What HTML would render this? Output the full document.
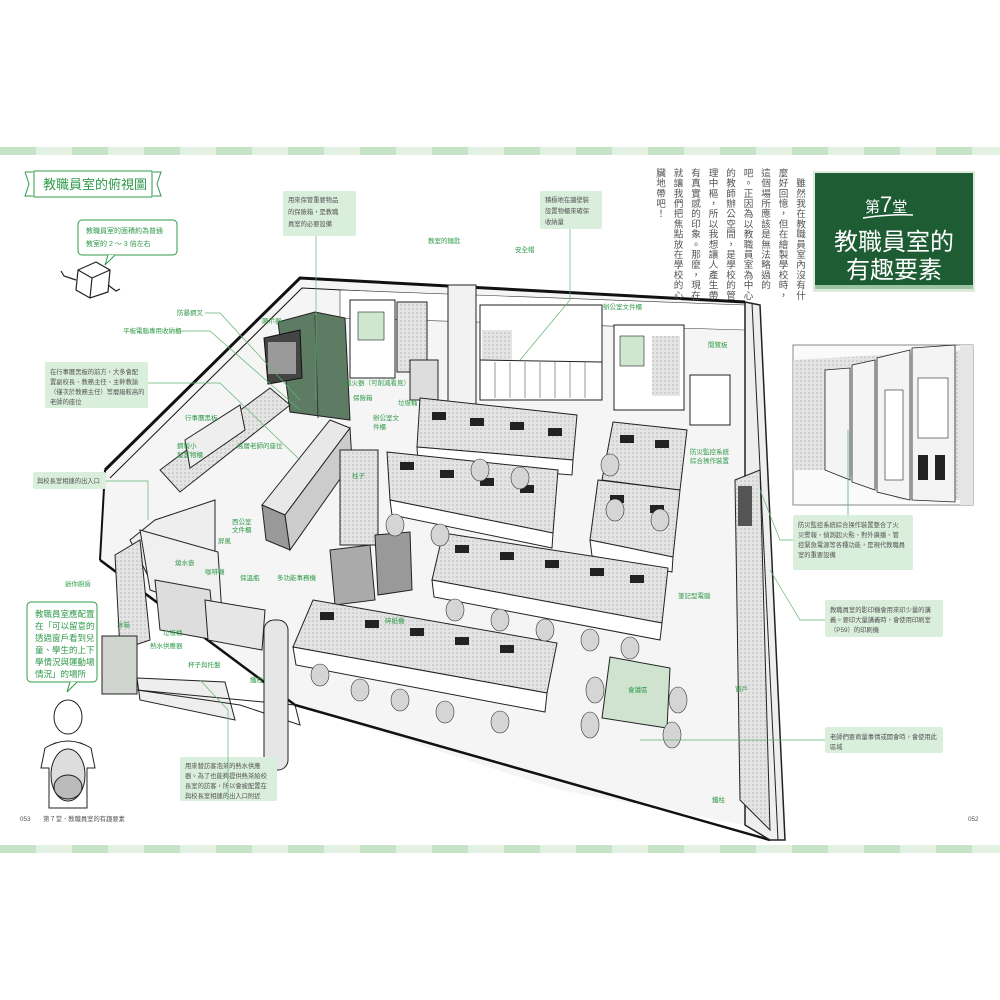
<!DOCTYPE html>
<html><head><meta charset="utf-8">
<style>
html,body{margin:0;padding:0;background:#fff;}
body{width:1000px;height:1000px;position:relative;overflow:hidden;font-family:"Liberation Sans","Noto Sans CJK TC",sans-serif;}
.vt{position:absolute;left:646px;top:168px;width:162px;height:135px;writing-mode:vertical-rl;font-size:9.6px;line-height:17.5px;color:#555;letter-spacing:0.6px;white-space:nowrap;}
svg{position:absolute;left:0;top:0;}
.l{fill:#2f9a4a;font-size:6.5px;font-family:"Liberation Sans","Noto Sans CJK TC",sans-serif;}
.b{fill:#555;font-size:6.3px;font-family:"Liberation Sans","Noto Sans CJK TC",sans-serif;}
.g{fill:#2f9a4a;font-size:8.5px;font-family:"Liberation Sans","Noto Sans CJK TC",sans-serif;}
</style></head><body>
<svg width="1000" height="1000" viewBox="0 0 1000 1000">
<defs>
<pattern id="st" width="72" height="10" patternUnits="userSpaceOnUse">
<rect width="36" height="10" fill="#c6e3c6"/><rect x="36" width="36" height="10" fill="#e2f1e2"/></pattern>
<pattern id="ht" width="4" height="4" patternUnits="userSpaceOnUse"><rect width="4" height="4" fill="#e4e4e4"/><circle cx="1" cy="1" r="0.8" fill="#b8b8b8"/></pattern>
</defs>
<rect x="0" y="147" width="1000" height="8" fill="url(#st)"/>
<rect x="0" y="845" width="1000" height="8" fill="url(#st)"/>

<path d="M25 172 l8 0 M25 172 l4 12 l-4 12 l8 0" stroke="#2f9a4a" fill="none"/>
<rect x="34" y="171" width="118" height="26" fill="#fff" stroke="#2f9a4a"/>
<path d="M153 172 l8 0 l-4 12 l4 12 l-8 0" stroke="#2f9a4a" fill="none"/>
<text x="43" y="189" class="g" style="font-size:13px">教職員室的俯視圖</text>

<rect x="813" y="171" width="162" height="121" fill="#dbeadb"/>
<rect x="815" y="173" width="158" height="112" fill="#1e5c34"/>
<rect x="815" y="285" width="158" height="4" fill="#9cc4a4"/>
<text x="865" y="212" fill="#fff" font-size="15" font-family="Liberation Sans,Noto Sans CJK TC,sans-serif">第<tspan font-size="22">7</tspan>堂</text>
<path d="M863 218 q25 -4 50 -3" stroke="#fff" fill="none" stroke-width="1.5"/>
<text x="834" y="250" fill="#fff" font-size="24" font-family="Liberation Sans,Noto Sans CJK TC,sans-serif">教職員室的</text>
<text x="846" y="278" fill="#fff" font-size="24" font-family="Liberation Sans,Noto Sans CJK TC,sans-serif">有趣要素</text>

<polygon points="300,278 745,302 745,825 560,790 295,705 100,560 105,470" fill="#f5f5f5"/>
<polyline points="105,470 300,278 745,302" fill="none" stroke="#111" stroke-width="3"/>
<polyline points="110,478 302,288 740,310" fill="none" stroke="#111" stroke-width="1"/>
<polyline points="100,560 295,705 770,840" fill="none" stroke="#111" stroke-width="2.5"/>
<line x1="105" y1="470" x2="100" y2="560" stroke="#111" stroke-width="2"/>
<polygon points="340,290 745,305 745,330 340,318" fill="#fff" stroke="#333" stroke-width=".6"/>
<rect x="350" y="300" width="45" height="78" fill="#fff" stroke="#222"/>
<rect x="358" y="312" width="26" height="28" fill="#cfe6cf" stroke="#222" stroke-width=".6"/>
<rect x="397" y="302" width="30" height="70" fill="url(#ht)" stroke="#222"/>
<rect x="448" y="285" width="28" height="150" fill="#f2f2f2" stroke="#222"/>
<rect x="480" y="305" width="122" height="95" fill="#fff" stroke="#222"/>
<rect x="482" y="330" width="30" height="30" fill="url(#ht)"/>
<line x1="480" y1="360" x2="602" y2="362" stroke="#222"/>
<g stroke="#555" stroke-width=".6"><line x1="495" y1="362" x2="495" y2="398"/><line x1="510" y1="362" x2="510" y2="398"/><line x1="525" y1="362" x2="525" y2="398"/><line x1="540" y1="362" x2="540" y2="398"/><line x1="555" y1="362" x2="555" y2="398"/><line x1="570" y1="362" x2="570" y2="398"/><line x1="585" y1="362" x2="585" y2="398"/></g>
<rect x="614" y="325" width="70" height="85" fill="#fff" stroke="#222"/>
<rect x="620" y="336" width="24" height="30" fill="#cfe6cf" stroke="#222" stroke-width=".6"/>
<rect x="652" y="336" width="28" height="60" fill="url(#ht)"/>
<rect x="690" y="375" width="40" height="50" fill="#fff" stroke="#222"/>
<rect x="410" y="360" width="28" height="40" fill="#ddd" stroke="#222"/>
<polygon points="278,322 315,312 345,318 350,420 290,412" fill="#5e7b64" stroke="#222"/>
<line x1="315" y1="315" x2="318" y2="418" stroke="#2c3d2f"/>
<polygon points="264,338 300,330 302,378 268,384" fill="#444" stroke="#111"/>
<rect x="268" y="342" width="28" height="32" fill="#9a9a9a"/>
<polygon points="160,470 270,388 290,405 180,492" fill="url(#ht)" stroke="#222"/>
<polygon points="185,440 240,405 245,430 190,468" fill="#eee" stroke="#222"/>
<polygon points="262,505 330,420 350,428 285,515" fill="#e8e8e8" stroke="#222"/>
<polygon points="262,505 285,515 290,550 266,540" fill="#999" stroke="#222"/>
<polygon points="285,515 350,428 352,462 290,550" fill="#ccc" stroke="#222"/>
<polygon points="130,540 155,520 215,500 215,560 150,580" fill="#eee" stroke="#222"/>
<polygon points="115,555 140,540 150,640 120,650" fill="url(#ht)" stroke="#222"/>
<polygon points="140,530 218,552 222,615 150,590" fill="#f0f0f0" stroke="#222"/>
<polygon points="155,580 210,590 215,640 160,630" fill="#ddd" stroke="#222"/>
<polygon points="205,600 265,610 262,650 208,640" fill="#e6e6e6" stroke="#222"/>
<rect x="102" y="636" width="35" height="58" fill="#cfd4cf" stroke="#222"/>
<polygon points="137,678 225,682 235,720 140,700" fill="#eee" stroke="#222"/>
<polygon points="137,690 240,705 300,725 295,705" fill="none" stroke="#222"/>
<rect x="340" y="450" width="38" height="95" fill="url(#ht)" stroke="#222"/>
<rect x="264" y="620" width="24" height="150" rx="10" fill="#e6e6e6" stroke="#222"/>
<polygon points="330,550 370,545 375,600 335,605" fill="#aaa" stroke="#222"/>
<polygon points="375,535 410,532 412,590 378,595" fill="#999" stroke="#222"/>
<g stroke="#222" stroke-width="1">
<polygon points="420,398 577,415 573,460 417,447" fill="url(#ht)"/>
<polygon points="417,447 573,460 572,475 418,462" fill="#fff"/>
<polygon points="387,452 558,470 553,533 390,500" fill="url(#ht)"/>
<polygon points="390,500 553,533 552,548 392,515" fill="#fff"/>
<polygon points="613,422 687,430 680,490 602,480" fill="url(#ht)"/>
<polygon points="598,480 680,490 673,557 590,540" fill="url(#ht)"/>
<polygon points="590,540 673,557 672,572 592,556" fill="#fff"/>
<polygon points="443,533 668,568 662,623 432,580" fill="url(#ht)"/>
<polygon points="432,580 662,623 660,640 434,597" fill="#fff"/>
<polygon points="313,600 557,643 547,693 293,647" fill="url(#ht)"/>
<polygon points="293,647 547,693 545,712 296,665" fill="#fff"/>
<polygon points="610,657 670,668 667,728 602,718" fill="#cfe3cf"/>
</g>
<g fill="#222">
<rect x="432" y="412" width="14" height="8"/><rect x="470" y="418" width="14" height="8"/><rect x="510" y="422" width="14" height="8"/><rect x="548" y="428" width="14" height="8"/>
<rect x="400" y="462" width="14" height="8"/><rect x="440" y="470" width="14" height="8"/><rect x="480" y="478" width="14" height="8"/><rect x="520" y="485" width="14" height="8"/>
<rect x="620" y="435" width="14" height="8"/><rect x="655" y="440" width="14" height="8"/><rect x="610" y="495" width="14" height="8"/><rect x="650" y="505" width="14" height="8"/>
<rect x="455" y="545" width="14" height="8"/><rect x="500" y="552" width="14" height="8"/><rect x="545" y="560" width="14" height="8"/><rect x="590" y="568" width="14" height="8"/><rect x="630" y="575" width="14" height="8"/>
<rect x="320" y="612" width="14" height="8"/><rect x="365" y="620" width="14" height="8"/><rect x="410" y="628" width="14" height="8"/><rect x="455" y="637" width="14" height="8"/><rect x="500" y="645" width="14" height="8"/>
</g>
<g fill="#d5d5d5" stroke="#333" stroke-width=".6">
<ellipse cx="395" cy="525" rx="9" ry="11"/><ellipse cx="440" cy="535" rx="9" ry="11"/><ellipse cx="480" cy="470" rx="9" ry="11"/><ellipse cx="520" cy="478" rx="9" ry="11"/>
<ellipse cx="455" cy="610" rx="9" ry="11"/><ellipse cx="500" cy="620" rx="9" ry="11"/><ellipse cx="545" cy="630" rx="9" ry="11"/><ellipse cx="590" cy="640" rx="9" ry="11"/><ellipse cx="630" cy="648" rx="9" ry="11"/>
<ellipse cx="320" cy="675" rx="9" ry="11"/><ellipse cx="360" cy="690" rx="9" ry="11"/><ellipse cx="400" cy="700" rx="9" ry="11"/><ellipse cx="445" cy="712" rx="9" ry="11"/><ellipse cx="500" cy="722" rx="9" ry="11"/>
<ellipse cx="595" cy="690" rx="9" ry="13"/><ellipse cx="590" cy="725" rx="9" ry="13"/><ellipse cx="678" cy="700" rx="9" ry="13"/><ellipse cx="672" cy="735" rx="9" ry="13"/>
<ellipse cx="615" cy="510" rx="9" ry="11"/><ellipse cx="660" cy="520" rx="9" ry="11"/><ellipse cx="610" cy="465" rx="9" ry="11"/>
</g>
<polygon points="745,302 760,305 785,840 770,840 745,825" fill="#eee" stroke="#222" stroke-width="1.5"/>
<line x1="752" y1="303" x2="778" y2="840" stroke="#222"/>
<polygon points="735,480 760,470 770,830 740,800" fill="url(#ht)" stroke="#222"/>
<rect x="738" y="486" width="14" height="40" fill="#555"/>

<rect x="793" y="345" width="180" height="160" fill="#fafafa" stroke="#888"/>
<polygon points="793,360 970,350 970,500 900,500 840,470 793,470" fill="url(#ht)"/>
<g fill="#f4f4f4" stroke="#222" stroke-width=".8">
<polygon points="825,370 850,368 850,480 825,470"/><polygon points="852,365 875,360 875,490 852,482"/><polygon points="877,358 910,350 910,500 877,492"/><polygon points="912,348 955,345 955,502 912,500"/>
</g>
<rect x="918" y="378" width="30" height="60" fill="#fff" stroke="#222" stroke-width=".6"/>
<rect x="918" y="455" width="10" height="25" fill="#222"/><rect x="935" y="455" width="10" height="25" fill="#222"/>
<rect x="885" y="390" width="18" height="90" fill="#fff" stroke="#222" stroke-width=".6"/>
<rect x="960" y="345" width="13" height="160" fill="#e6e6e6"/>
<line x1="848" y1="430" x2="848" y2="515" stroke="#7bbf8a"/>

<g fill="#d9eedb">
<rect x="283" y="191" width="73" height="45" rx="2"/>
<rect x="540" y="191" width="62" height="38" rx="2"/>
<rect x="45" y="362" width="103" height="46" rx="2"/>
<rect x="33" y="472" width="73" height="17" rx="2"/>
<rect x="180" y="757" width="97" height="44" rx="2"/>
<rect x="793" y="515" width="120" height="55" rx="2"/>
<rect x="825" y="600" width="118" height="37" rx="2"/>
<rect x="825" y="727" width="118" height="26" rx="2"/>
</g>
<text class="b"><tspan x="288" y="202">用來保管重要物品</tspan><tspan x="288" y="214">的保險箱，是教職</tspan><tspan x="288" y="226">員室的必要設備</tspan></text>
<text class="b"><tspan x="545" y="202">積極地在牆壁裝</tspan><tspan x="545" y="213">設置物櫃來確保</tspan><tspan x="545" y="224">收納量</tspan></text>
<text class="b"><tspan x="50" y="374">在行事曆黑板的前方，大多會配</tspan><tspan x="50" y="384">置副校長、教務主任、主幹教諭</tspan><tspan x="50" y="394">（僅次於教務主任）等層級較高的</tspan><tspan x="50" y="404">老師的座位</tspan></text>
<text class="b" x="37" y="483">與校長室相連的出入口</text>
<text class="b"><tspan x="185" y="768">用來替訪客泡茶的熱水供應</tspan><tspan x="185" y="778">器。為了也能夠提供熱茶給校</tspan><tspan x="185" y="788">長室的訪客，所以會被配置在</tspan><tspan x="185" y="798">與校長室相連的出入口附近</tspan></text>
<text class="b"><tspan x="798" y="527">防災監控系統綜合操作裝置整合了火</tspan><tspan x="798" y="537">災警報、偵測起火點、對外廣播、管</tspan><tspan x="798" y="547">控緊急電源等各種功能，是現代教職員</tspan><tspan x="798" y="557">室的重要設備</tspan></text>
<text class="b"><tspan x="830" y="612">教職員室的影印機會用來印少量的講</tspan><tspan x="830" y="622">義。要印大量講義時，會使用印刷室</tspan><tspan x="830" y="632">（P59）的印刷機</tspan></text>
<text class="b"><tspan x="830" y="739">老師們要商量事情或開會時，會使用此</tspan><tspan x="830" y="749">區域</tspan></text>

<rect x="78" y="220" width="99" height="35" rx="4" fill="#fff" stroke="#2f9a4a"/>
<path d="M108 255 l-3 10 l10 -10" fill="#fff" stroke="#2f9a4a"/>
<text class="l" style="font-size:7px"><tspan x="86" y="233">教職員室的面積約為普通</tspan><tspan x="86" y="246">教室的 2 ～ 3 倍左右</tspan></text>
<rect x="27" y="602" width="70" height="80" rx="4" fill="#fff" stroke="#2f9a4a"/>
<path d="M70 682 l-3 10 l10 -10" fill="#fff" stroke="#2f9a4a"/>
<text class="l" style="font-size:8.5px"><tspan x="35" y="617">教職員室應配置</tspan><tspan x="35" y="629">在「可以留意的</tspan><tspan x="35" y="641">透過窗戶看到兒</tspan><tspan x="35" y="653">童、學生的上下</tspan><tspan x="35" y="665">學情況與運動場</tspan><tspan x="35" y="677">情況」的場所</tspan></text>

<g stroke="#222" fill="#fff" stroke-width="1.2">
<polygon points="78,270 96,262 110,270 108,292 90,298 76,290"/>
<polyline points="78,270 92,278 110,270" fill="none"/><line x1="92" y1="278" x2="90" y2="298"/>
<path d="M76 280 l-12 -4 l-3 -5" fill="none"/><path d="M108 285 l8 6 l4 -2" fill="none"/>
</g>
<g stroke="#222" fill="#fff" stroke-width="1">
<ellipse cx="68" cy="717" rx="14" ry="17"/>
<path d="M45 748 q23 -14 46 0 l4 20 l-8 0 l0 40 l-38 0 l0 -40 l-8 0 z"/>
<ellipse cx="68" cy="775" rx="17" ry="26" fill="#ddd"/>
<ellipse cx="68" cy="787" rx="14" ry="12" fill="#bbb"/>
</g>

<g stroke="#5fb574" stroke-width=".7" fill="none">
<polyline points="316,236 316,400"/><polyline points="570,229 570,300 520,360"/>
<polyline points="205,313 220,313 300,400"/><polyline points="180,331 210,331 300,410"/>
<polyline points="148,383 220,383 300,460"/><polyline points="106,481 148,481 148,520"/>
<polyline points="228,800 228,710 200,680"/><polyline points="793,540 780,540 760,490"/>
<polyline points="825,620 800,620 770,570"/><polyline points="825,740 640,740"/>
</g>

<g class="l">
<text x="262" y="323">顯示器</text><text x="177" y="315">防暴鋼叉</text><text x="123" y="333">平板電腦專用收納櫃</text>
<text x="185" y="420">行事曆黑板</text><text x="177" y="448">鋼製小</text><text x="177" y="457">型置物櫃</text>
<text x="237" y="448">高層老師的座位</text><text x="232" y="524">西公室</text><text x="232" y="532">文件櫃</text>
<text x="218" y="543">屏風</text><text x="175" y="565">燒水壺</text><text x="205" y="574">咖啡機</text><text x="240" y="580">保溫瓶</text>
<text x="277" y="580">多功能事務機</text><text x="65" y="586">迷你廚房</text><text x="117" y="627">冰箱</text>
<text x="163" y="635">垃圾桶</text><text x="150" y="648">熱水供應器</text><text x="188" y="667">杯子與托盤</text>
<text x="250" y="682">鐵柱</text><text x="352" y="478">柱子</text><text x="385" y="623">碎紙機</text>
<text x="678" y="598">筆記型電腦</text><text x="628" y="692">會議區</text><text x="735" y="691">窗戶</text><text x="712" y="802">鐵柱</text>
<text x="428" y="243">教室的鑰匙</text><text x="515" y="252">安全帽</text><text x="603" y="309">辦公室文件櫃</text>
<text x="708" y="347">閱覽板</text><text x="690" y="454">防災監控系統</text><text x="690" y="463">綜合操作裝置</text>
<text x="345" y="385">滅火器（可削減看見）</text><text x="353" y="400">保險箱</text><text x="398" y="405">垃圾桶</text>
<text x="373" y="420">辦公室文</text><text x="373" y="429">件櫃</text>
</g>

<text x="20" y="821" class="b">053　　第７堂．教職員室的有趣要素</text>
<text x="968" y="821" class="b">052</text>
</svg>
<div class="vt">　雖然我在教職員室內沒有什<br>麼好回憶，但在繪製學校時，<br>這個場所應該是無法略過的<br>吧。正因為以教職員室為中心<br>的教師辦公空間，是學校的管<br>理中樞，所以我想讓人產生帶<br>有真實感的印象。那麼，現在<br>就讓我們把焦點放在學校的心<br>臟地帶吧！</div>
</body></html>
